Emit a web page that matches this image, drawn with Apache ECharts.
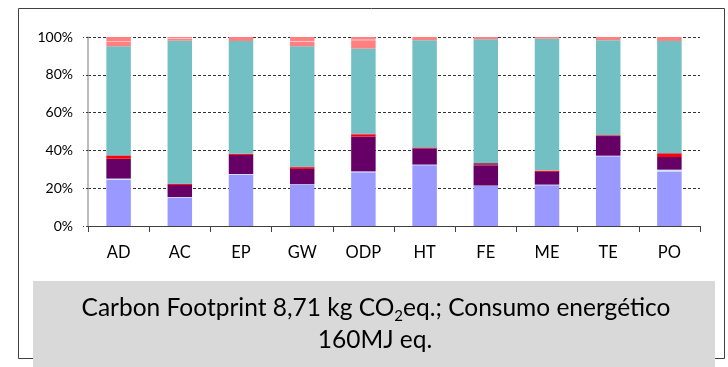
<!DOCTYPE html>
<html>
<head>
<meta charset="utf-8">
<script src="https://cdn.jsdelivr.net/npm/echarts@6/dist/echarts.min.js"></script>
<style>
  html, body { margin: 0; padding: 0; background: #fff; }
  #chart { width: 728px; height: 367px; }
</style>
</head>
<body>
<div id="chart"></div>
<script>
// Impact categories
const categories = ['AD', 'AC', 'EP', 'GW', 'ODP', 'HT', 'FE', 'ME', 'TE', 'PO'];
const yTicks = ['0%', '20%', '40%', '60%', '80%', '100%'];

// Share of each life-cycle stage per category (%), stacked bottom to top
const stageA      = [24.4, 14.8, 27.2, 21.7, 28.4, 32.2, 21.2, 21.6, 36.9, 28.9];
const stageB      = [0.7, 0.5, 0.3, 0.4, 0.5, 0.3, 0.2, 0.3, 0.3, 0.9];
const stageC      = [10.5, 6.4, 10.1, 8.1, 18.4, 8.6, 10.7, 6.7, 10.4, 6.7];
const stageD      = [1.5, 0.5, 0.5, 0.9, 1.1, 0.4, 0.2, 0.5, 0.3, 1.8];
const stageE      = [0.3, 0.2, 0.2, 0.3, 0.5, 0.1, 1.0, 0.2, 0.2, 0.3];
const stageF      = [57.7, 75.7, 59.6, 63.7, 45.0, 56.7, 65.5, 69.8, 50.2, 59.3];
const stageG      = [2.3, 1.0, 2.1, 2.5, 4.4, 1.7, 1.2, 0.9, 1.7, 2.1];
const stageH      = [0.3, 0.3, 0, 0.3, 0.3, 0, 0, 0, 0, 0];
const stageI      = [2.3, 0.6, 0, 2.1, 1.4, 0, 0, 0, 0, 0];

const stages = [
  { name: 'A', data: stageA, color: '#9999FF' },
  { name: 'B', data: stageB, color: '#CCE6FF' },
  { name: 'C', data: stageC, color: '#660066' },
  { name: 'D', data: stageD, color: '#FF0000' },
  { name: 'E', data: stageE, color: '#993366' },
  { name: 'F', data: stageF, color: '#72BFC4' },
  { name: 'G', data: stageG, color: '#FF8080' },
  { name: 'H', data: stageH, color: '#FFC4C4' },
  { name: 'I', data: stageI, color: '#FF8080' }
];

const noteLine1 = 'Carbon Footprint 8,71 kg CO{sub|2}eq.; Consumo energético';
const noteLine2 = '160MJ eq.';

const chart = echarts.init(document.getElementById('chart'), null, { renderer: 'canvas' });

const noteFont = '24.5px Lato, "Open Sans", sans-serif';

const option = {
  animation: false,
  backgroundColor: '#ffffff',
  textStyle: { fontFamily: 'Lato, "Open Sans", sans-serif' },
  grid: { left: 88, right: 28, top: 37, bottom: 141, containLabel: false },
  xAxis: {
    type: 'category',
    data: categories,
    axisLine: { lineStyle: { color: '#404040', width: 1 } },
    axisTick: { show: true, alignWithLabel: false, length: 6, lineStyle: { color: '#404040' } },
    axisLabel: { color: '#000', fontSize: 16.5, margin: 18, fontFamily: 'Lato, sans-serif' }
  },
  yAxis: {
    type: 'value',
    min: 0,
    max: 100,
    interval: 20,
    axisLine: { show: true, lineStyle: { color: '#a6a6a6', width: 1.5 } },
    axisTick: { show: true, length: 5, lineStyle: { color: '#404040', type: [2, 2] } },
    axisLabel: {
      color: '#000', fontSize: 14, margin: 15, fontFamily: 'Lato, sans-serif',
      formatter: (v) => yTicks[Math.round(v / 20)]
    },
    splitLine: { show: true, lineStyle: { color: '#333', width: 1, type: [3, 2] } }
  },
  series: stages.map((s) => ({
    name: s.name,
    type: 'bar',
    stack: 'total',
    barWidth: '40%',
    data: s.data,
    itemStyle: { color: s.color },
    emphasis: { disabled: true }
  })),
  graphic: [
    {
      type: 'rect',
      z: -1,
      shape: { x: 18.5, y: 8.5, width: 706, height: 350 },
      style: { fill: 'none', stroke: '#404040', lineWidth: 1 }
    },
    {
      type: 'rect',
      z: 10,
      shape: { x: 33, y: 281, width: 682, height: 90 },
      style: { fill: '#D9D9D9', stroke: 'none' }
    },
    {
      type: 'text',
      z: 11,
      x: 376,
      y: 308,
      style: {
        text: noteLine1,
        fill: '#000',
        font: noteFont,
        align: 'center',
        verticalAlign: 'middle',
        rich: {
          sub: { fontSize: 15, fontFamily: 'Lato, sans-serif', padding: [17, 0, 0, 0] }
        }
      }
    },
    {
      type: 'text',
      z: 11,
      x: 375,
      y: 340,
      style: {
        text: noteLine2,
        fill: '#000',
        font: noteFont,
        align: 'center',
        verticalAlign: 'middle'
      }
    }
  ]
};

chart.setOption(option);
</script>
</body>
</html>
